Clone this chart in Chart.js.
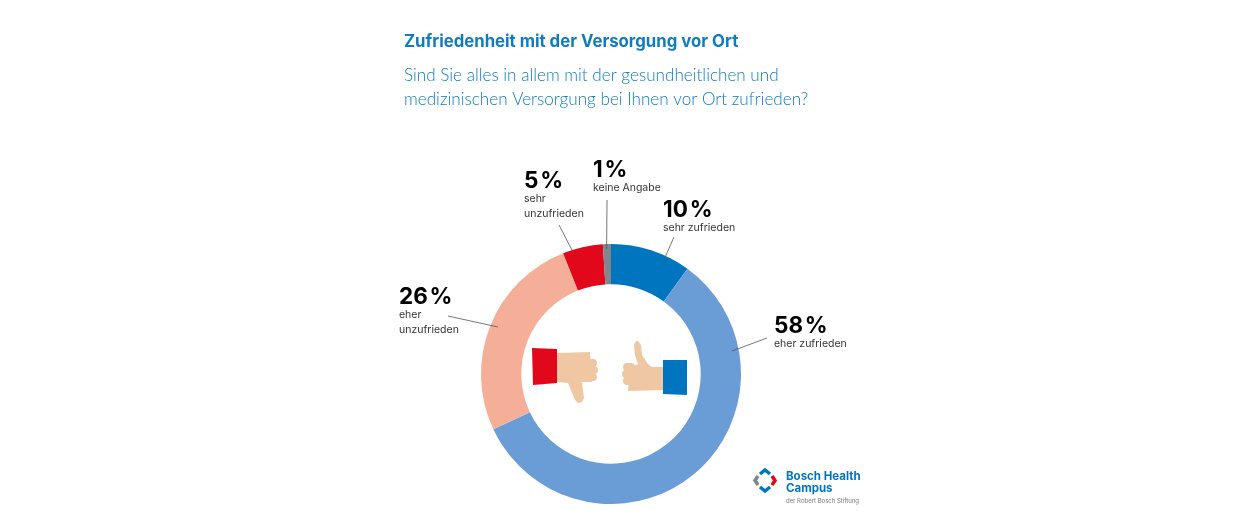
<!DOCTYPE html>
<html lang="de">
<head>
<meta charset="utf-8">
<title>Zufriedenheit mit der Versorgung vor Ort</title>
<script src="https://cdn.jsdelivr.net/npm/chart.js@4"></script>
<style>
    html, body { margin: 0; padding: 0; background: #fff; }
    #wrap { width: 1260px; height: 528px; }
</style>
</head>
<body>
<div id="wrap"><canvas id="chart" width="1260" height="528"></canvas></div>
<script>
// Chart data
const categories = ['sehr zufrieden', 'eher zufrieden', 'eher unzufrieden', 'sehr unzufrieden', 'keine Angabe'];
const shares = [10, 58, 26, 5, 1];
const sliceColors = ['#0075bf', '#6a9dd6', '#f5af98', '#e2081c', '#7d8790'];

const titleText = 'Zufriedenheit mit der Versorgung vor Ort';
const questionLines = [
    'Sind Sie alles in allem mit der gesundheitlichen und',
    'medizinischen Versorgung bei Ihnen vor Ort zufrieden?'
];
const FONT = 'Inter, "Open Sans", sans-serif';
const BLUE = '#0f7cc0';
const SKIN = '#efc8a3';

// Label placement per slice: text position, wrapped caption, leader line
const callouts = [
    { x: 663, y: 217, caption: ['sehr zufrieden'], from: [674, 237], to: [663, 262] },
    { x: 774, y: 333, caption: ['eher zufrieden'], from: [767, 338], to: [732, 351] },
    { x: 399, y: 304, caption: ['eher', 'unzufrieden'], from: [448, 316], to: [498, 327] },
    { x: 524, y: 188, caption: ['sehr', 'unzufrieden'], from: [559, 225], to: [573, 252] },
    { x: 593, y: 177, caption: ['keine Angabe'], from: [607, 200], to: [606.6, 249] }
];

function poly(ctx, points, color) {
    ctx.fillStyle = color;
    ctx.beginPath();
    points.forEach((p, i) => i ? ctx.lineTo(p[0], p[1]) : ctx.moveTo(p[0], p[1]));
    ctx.closePath();
    ctx.fill();
}

function roundBox(ctx, x, y, w, h, r, color) {
    ctx.fillStyle = color;
    ctx.beginPath();
    ctx.roundRect(x, y, w, h, r);
    ctx.fill();
}

function drawThumbDown(ctx) {
    poly(ctx, [[557, 353], [590, 352], [592, 382], [582, 382], [584, 398], [582, 402], [578, 403], [575, 400], [568, 383], [557, 382]], SKIN);
    roundBox(ctx, 585, 359, 12, 8, 4, SKIN);
    roundBox(ctx, 585, 366, 13, 8, 4, SKIN);
    roundBox(ctx, 585, 373, 12, 8, 4, SKIN);
    poly(ctx, [[532, 348], [557, 349], [557, 383], [533, 385]], '#e2081c');
}

function drawThumbUp(ctx) {
    poly(ctx, [[663, 367], [652, 367], [648, 364], [642, 355], [641, 345], [638, 341], [636, 341], [634, 345], [635, 355], [638, 364], [630, 368], [628, 391], [663, 390]], SKIN);
    roundBox(ctx, 623, 363, 12, 8, 4, SKIN);
    roundBox(ctx, 622, 370, 12, 8, 4, SKIN);
    roundBox(ctx, 623, 377, 12, 8, 4, SKIN);
    poly(ctx, [[663, 360], [687, 360], [687, 395], [663, 394]], '#0075bf');
}

function drawLogo(ctx) {
    const marks = [
        { pts: [[760, 474], [765, 470], [770, 474]], color: '#0075bf' },
        { pts: [[760, 487], [765, 491], [770, 487]], color: '#0075bf' },
        { pts: [[758, 476], [755, 480.5], [758, 485]], color: '#7d8790' },
        { pts: [[772, 476], [775, 480.5], [772, 485]], color: '#e2081c' }
    ];
    ctx.lineWidth = 3.5;
    marks.forEach(m => {
        ctx.strokeStyle = m.color;
        ctx.beginPath();
        m.pts.forEach((p, i) => i ? ctx.lineTo(p[0], p[1]) : ctx.moveTo(p[0], p[1]));
        ctx.stroke();
    });
    ctx.fillStyle = '#0075bf';
    ctx.font = 'bold 11.5px ' + FONT;
    ctx.fillText('Bosch Health', 786, 480);
    ctx.fillText('Campus', 786, 492);
    ctx.fillStyle = '#777';
    ctx.font = '6px ' + FONT;
    ctx.fillText('der Robert Bosch Stiftung', 786, 503);
}

// Everything around the ring: headings, callouts, hands, logo
const decorations = {
    id: 'decorations',
    afterDraw(chart) {
        const ctx = chart.ctx;
        ctx.save();
        ctx.textAlign = 'left';
        ctx.textBaseline = 'alphabetic';

        ctx.fillStyle = BLUE;
        ctx.font = 'bold 16.75px ' + FONT;
        ctx.fillText(titleText, 404, 47);
        ctx.font = '300 17.1px Lato, ' + FONT;
        questionLines.forEach((line, i) => ctx.fillText(line, 404, 81 + i * 24));

        callouts.forEach((c, i) => {
            ctx.strokeStyle = '#555';
            ctx.lineWidth = 0.8;
            ctx.beginPath();
            ctx.moveTo(c.from[0], c.from[1]);
            ctx.lineTo(c.to[0], c.to[1]);
            ctx.stroke();

            ctx.fillStyle = '#000';
            ctx.font = 'bold 22.5px ' + FONT;
            ctx.fillText(shares[i] + '\u200a%', c.x, c.y);
            ctx.fillStyle = '#333';
            ctx.font = '10.5px ' + FONT;
            c.caption.forEach((line, j) => ctx.fillText(line, c.x, c.y + 14 + j * 14.5));
        });

        drawThumbDown(ctx);
        drawThumbUp(ctx);
        drawLogo(ctx);
        ctx.restore();
    }
};

new Chart(document.getElementById('chart').getContext('2d'), {
    type: 'doughnut',
    data: {
        labels: categories,
        datasets: [{
            data: shares,
            backgroundColor: sliceColors,
            borderWidth: 0
        }]
    },
    options: {
        responsive: false,
        animation: false,
        cutout: '69%',
        layout: { padding: { left: 481, right: 519, top: 244, bottom: 24 } },
        plugins: {
            legend: { display: false },
            tooltip: { enabled: false }
        }
    },
    plugins: [decorations]
});
</script>
</body>
</html>
